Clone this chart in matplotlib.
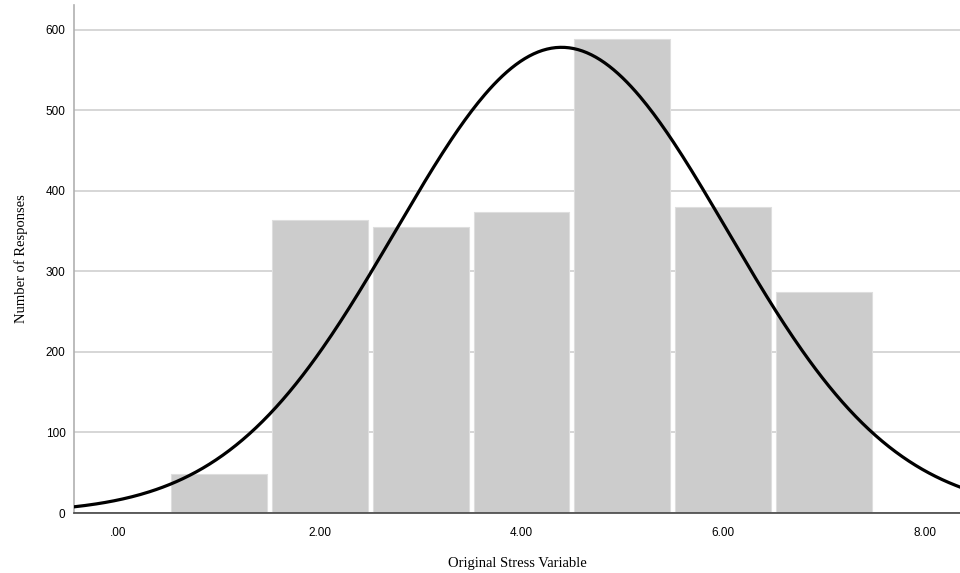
import numpy as np
import matplotlib.pyplot as plt

# histogram bins (stress score) and counts
scores = [1, 2, 3, 4, 5, 6, 7]
counts = [48, 364, 355, 374, 589, 380, 275]
x_ticks = [0, 2, 4, 6, 8]
x_tick_labels = [".00", "2.00", "4.00", "6.00", "8.00"]
y_ticks = [0, 100, 200, 300, 400, 500, 600]

# normal curve from the histogram's own mean / sd
vals = np.repeat(scores, counts)
n = len(vals)
mu = vals.mean()
sd = vals.std(ddof=1)

fig = plt.figure(figsize=(9.6, 5.73), dpi=100)
ax = fig.add_axes([0.077, 0.1047, 0.923, 0.8866])

ax.bar(scores, counts, width=0.95, color="#cccccc", edgecolor="#dedede",
       linewidth=0.8, zorder=2)

xs = np.linspace(-0.44, 8.35, 400)
ys = n * 1.0 / (sd * np.sqrt(2 * np.pi)) * np.exp(-0.5 * ((xs - mu) / sd) ** 2)
ax.plot(xs, ys, color="black", linewidth=2.3, zorder=3)

ax.set_xlim(-0.44, 8.35)
ax.set_ylim(0, 631)
ax.set_xticks(x_ticks)
ax.set_xticklabels(x_tick_labels)
ax.set_yticks(y_ticks)

ax.yaxis.grid(True, color="#d0d0d0", linewidth=1.2, zorder=0)
ax.set_axisbelow(True)

for s in ["top", "right"]:
    ax.spines[s].set_visible(False)
ax.spines["left"].set_color("#b0b0b0")
ax.spines["left"].set_linewidth(1.2)
ax.spines["bottom"].set_color("#444444")
ax.spines["bottom"].set_linewidth(1.2)

ax.tick_params(axis="both", length=0, labelsize=8.5, colors="black")
ax.tick_params(axis="y", pad=6)
ax.tick_params(axis="x", pad=10)
for lab in ax.get_xticklabels() + ax.get_yticklabels():
    lab.set_family("Liberation Sans")

ax.set_xlabel("Original Stress Variable", family="Liberation Serif",
              fontsize=10.5, labelpad=13)
ax.set_ylabel("Number of Responses", family="Liberation Serif",
              fontsize=10.5, labelpad=13)

fig.savefig("out.png", dpi=100)
